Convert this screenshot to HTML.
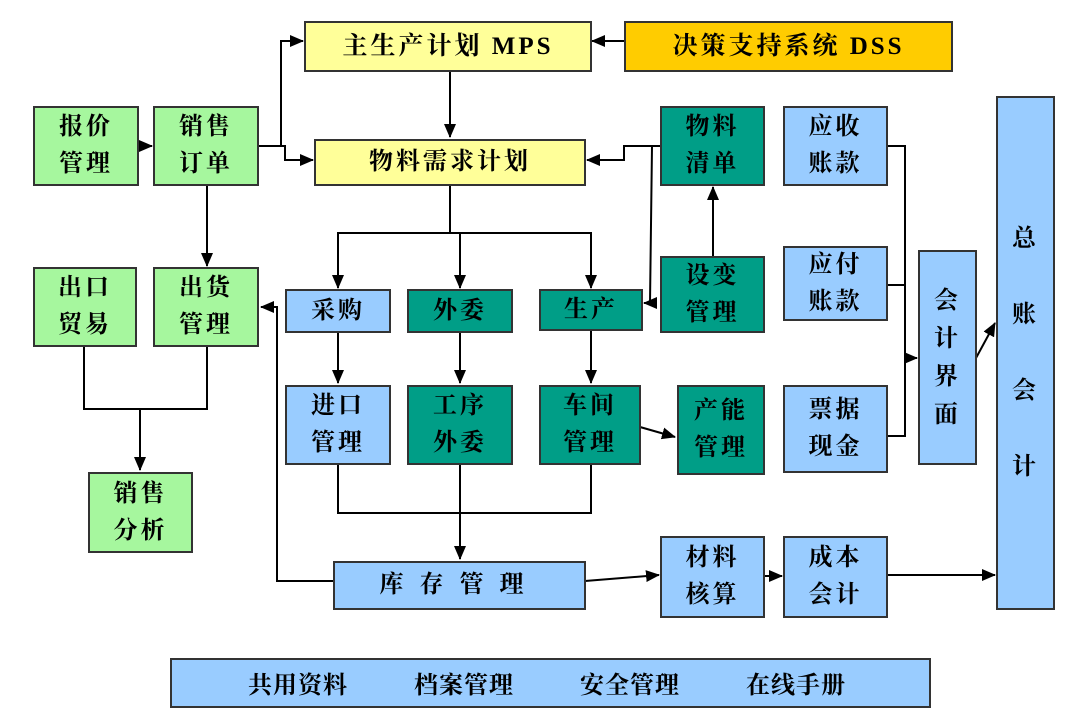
<!DOCTYPE html>
<html><head><meta charset="utf-8"><style>
body{margin:0;background:#fff;width:1080px;height:721px;position:relative;overflow:hidden;font-family:"Liberation Serif","Noto Serif CJK SC",serif;}
.b{position:absolute;box-sizing:border-box;border:2px solid #333;display:flex;align-items:center;justify-content:center;text-align:center;font-weight:bold;font-size:24px;line-height:37px;color:#000;letter-spacing:3px;}
.y{background:#FFFF99}.o{background:#FFCC00}.g{background:#A6F79E}.t{background:#009E87}.l{background:#99CCFF}
svg{position:absolute;left:0;top:0}
.bar span{position:absolute;top:8px;letter-spacing:1px}
</style></head><body>
<svg width="1080" height="721">
<defs><marker id="a" markerWidth="14" markerHeight="12" refX="13" refY="6" orient="auto" markerUnits="userSpaceOnUse"><path d="M0,0 L14,6 L0,12z" fill="#000"/></marker></defs>
<g stroke="#000" stroke-width="2" fill="none">
<line x1="624" y1="41" x2="592" y2="41" marker-end="url(#a)"/>
<polyline points="259,146 285,146 285,160 313,160" marker-end="url(#a)"/>
<polyline points="281,146 281,41 303,41" marker-end="url(#a)"/>
<line x1="139" y1="146" x2="152" y2="146" marker-end="url(#a)"/>
<line x1="450" y1="71" x2="450" y2="137" marker-end="url(#a)"/>
<polyline points="661,146 624,146 624,160 587,160" marker-end="url(#a)"/>
<polyline points="652,146 650,303 644,303" marker-end="url(#a)"/>
<line x1="713" y1="257" x2="713" y2="187" marker-end="url(#a)"/>
<line x1="450" y1="185" x2="450" y2="233"/>
<line x1="337" y1="233" x2="592" y2="233"/>
<line x1="338" y1="233" x2="338" y2="288" marker-end="url(#a)"/>
<line x1="460" y1="233" x2="460" y2="288" marker-end="url(#a)"/>
<line x1="591" y1="233" x2="591" y2="288" marker-end="url(#a)"/>
<line x1="338" y1="332" x2="338" y2="383" marker-end="url(#a)"/>
<line x1="460" y1="332" x2="460" y2="383" marker-end="url(#a)"/>
<line x1="591" y1="330" x2="591" y2="383" marker-end="url(#a)"/>
<line x1="640" y1="427" x2="675" y2="437" marker-end="url(#a)"/>
<polyline points="338,464 338,513 591,513 591,464"/>
<line x1="460" y1="464" x2="460" y2="559" marker-end="url(#a)"/>
<polyline points="333,581 277,581 277,307 261,307" marker-end="url(#a)"/>
<line x1="585" y1="581" x2="659" y2="575" marker-end="url(#a)"/>
<line x1="764" y1="576" x2="782" y2="576" marker-end="url(#a)"/>
<line x1="887" y1="575" x2="995" y2="575" marker-end="url(#a)"/>
<polyline points="887,146 905,146 905,436 887,436"/>
<line x1="887" y1="285" x2="905" y2="285"/>
<line x1="905" y1="358" x2="917" y2="358" marker-end="url(#a)"/>
<line x1="976" y1="358" x2="995" y2="323" marker-end="url(#a)"/>
<line x1="207" y1="185" x2="207" y2="266" marker-end="url(#a)"/>
<polyline points="84,346 84,409 207,409 207,346"/>
<line x1="140" y1="409" x2="140" y2="470" marker-end="url(#a)"/>
</g></svg>
<div class="b y" style="left:304px;top:21px;width:288px;height:51px;font-size:25px">主生产计划 MPS</div>
<div class="b o" style="left:624px;top:21px;width:329px;height:51px;font-size:25px">决策支持系统 DSS</div>
<div class="b g" style="left:33px;top:106px;width:106px;height:80px">报价<br>管理</div>
<div class="b g" style="left:153px;top:106px;width:106px;height:80px">销售<br>订单</div>
<div class="b y" style="left:314px;top:139px;width:272px;height:47px">物料需求计划</div>
<div class="b t" style="left:660px;top:106px;width:105px;height:80px">物料<br>清单</div>
<div class="b l" style="left:783px;top:106px;width:105px;height:80px">应收<br>账款</div>
<div class="b g" style="left:33px;top:267px;width:104px;height:80px">出口<br>贸易</div>
<div class="b g" style="left:153px;top:267px;width:106px;height:80px">出货<br>管理</div>
<div class="b l" style="left:285px;top:289px;width:106px;height:44px">采购</div>
<div class="b t" style="left:407px;top:289px;width:106px;height:44px">外委</div>
<div class="b t" style="left:539px;top:289px;width:104px;height:42px">生产</div>
<div class="b t" style="left:660px;top:256px;width:105px;height:77px">设变<br>管理</div>
<div class="b l" style="left:783px;top:246px;width:105px;height:75px">应付<br>账款</div>
<div class="b l" style="left:918px;top:250px;width:59px;height:215px;line-height:38px">会<br>计<br>界<br>面</div>
<div class="b l" style="left:996px;top:96px;width:59px;height:514px;line-height:76px">总<br>账<br>会<br>计</div>
<div class="b l" style="left:285px;top:385px;width:106px;height:80px">进口<br>管理</div>
<div class="b t" style="left:407px;top:385px;width:106px;height:80px">工序<br>外委</div>
<div class="b t" style="left:539px;top:385px;width:102px;height:80px">车间<br>管理</div>
<div class="b t" style="left:677px;top:385px;width:88px;height:90px">产能<br>管理</div>
<div class="b l" style="left:783px;top:385px;width:105px;height:88px">票据<br>现金</div>
<div class="b g" style="left:88px;top:472px;width:105px;height:81px">销售<br>分析</div>
<div class="b l" style="left:333px;top:561px;width:253px;height:49px;letter-spacing:16px">库存管理</div>
<div class="b l" style="left:660px;top:536px;width:105px;height:82px">材料<br>核算</div>
<div class="b l" style="left:783px;top:536px;width:105px;height:82px">成本<br>会计</div>
<div class="b l bar" style="left:170px;top:658px;width:761px;height:50px;display:block"><span style="left:76px">共用资料</span><span style="left:242px">档案管理</span><span style="left:408px">安全管理</span><span style="left:574px">在线手册</span></div>
</body></html>
